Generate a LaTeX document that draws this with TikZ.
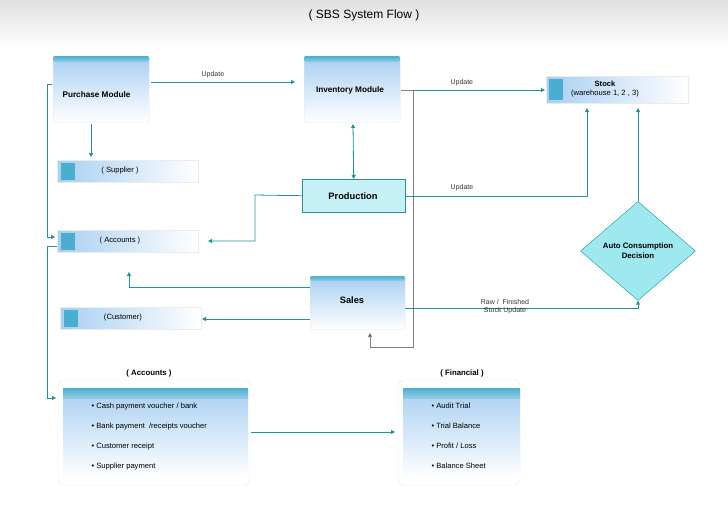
\documentclass[tikz,border=0pt]{standalone}
\usepackage{fontspec}
\setmainfont{Liberation Sans}
\usetikzlibrary{arrows.meta,shapes.geometric,patterns}
\definecolor{tl}{HTML}{1E9494}
\definecolor{bx}{HTML}{A8CFF2}
\definecolor{hd}{HTML}{4AAED0}
\definecolor{dm}{HTML}{9EE8F0}
\begin{document}
\begin{tikzpicture}[x=1pt,y=-1pt,
  lnk/.style={draw=tl,line width=0.8pt,-{Triangle[length=4pt,width=4pt]}},
  gl/.style={draw=gray,line width=0.8pt},
  lbl/.style={font=\fontsize{7}{8}\selectfont,text=black!80},
  bt/.style={font=\bfseries\fontsize{8.2}{9.5}\selectfont},
  tab/.style={font=\fontsize{7.6}{9}\selectfont},
  mod/.style={draw=black!10,rounded corners=2pt,top color=bx,bottom color=white,minimum width=96pt,anchor=north west,inner sep=0pt}]
\useasboundingbox (0,0) rectangle (728,504);
\shade[top color=black!12,bottom color=white] (0,0) rectangle (728,48);
\node (title) at (364,15) {\fontsize{12}{14}\selectfont ( SBS System Flow )};
% module boxes
\node[mod,minimum height=66pt] (pm) at (53,56) {};
\shade[top color=hd,bottom color=hd!60,rounded corners=2pt] (53,56) rectangle (149,62);
\node[bt,anchor=west] (pmt) at (59,95) {Purchase Module};
\node[mod,minimum height=66pt] (im) at (304,56) {};
\shade[top color=hd,bottom color=hd!60,rounded corners=2pt] (304,56) rectangle (400,62);
\node[bt] (imt) at (350,90) {Inventory Module};
\node[mod,minimum height=53pt,minimum width=95pt] (sa) at (310,276) {};
\shade[top color=hd,bottom color=hd!60,rounded corners=2pt] (310,276) rectangle (405,281);
\node[font=\bfseries\fontsize{9.3}{11}\selectfont] (sat) at (352,300) {Sales};
\node[draw=tl,pattern=crosshatch dots,pattern color=tl!60,fill=dm!60,minimum width=103pt,minimum height=33pt,anchor=north west,inner sep=0pt] (pr) at (302,179) {};
\node[font=\bfseries\fontsize{9.3}{11}\selectfont] (prt) at (353,196) {Production};
% tabs
\foreach \n/\x/\y/\t in {sup/57/160/{( Supplier )},acc/57/230/{( Accounts )},cus/60/307/{(Customer)}}{
  \shade[left color=bx,right color=white,draw=black!8] (\x,\y) rectangle ++(141,22);
  \fill[hd] (\x+4,\y+3) rectangle ++(14,17);
  \node[tab] (\n) at (\x+63,\y+11) {\t};
}
\shade[left color=bx,right color=white,draw=black!8] (546,76) rectangle (688,103);
\fill[hd] (549,79) rectangle (563,100);
\node[font=\fontsize{7.6}{9}\selectfont,align=center] (st) at (605,89) {\textbf{Stock}\\(warehouse 1, 2 , 3)};
\node[diamond,draw=tl,fill=dm,minimum width=115pt,minimum height=99pt,inner sep=0pt,
  font=\bfseries\fontsize{7.8}{10}\selectfont,align=center] (dd) at (638,251) {Auto Consumption\\Decision};
% bottom frames
\draw[black!10,rounded corners=6pt] (58,380) rectangle (250,485);
\shade[top color=bx,bottom color=white,rounded corners=2pt] (63,388) rectangle (248,478);
\shade[top color=hd,bottom color=hd!60] (63,388) rectangle (248,398);
\node[font=\bfseries\fontsize{7.8}{9}\selectfont] (at) at (149,373) {( Accounts )};
\foreach \i/\t in {0/{Cash payment voucher / bank},1/{Bank payment \ /receipts voucher},2/{Customer receipt},3/{Supplier payment}}
  \node[tab,anchor=west] (a\i) at (88,407+20*\i) {\textbullet\ \t};
\draw[black!10,rounded corners=6pt] (398,380) rectangle (520,485);
\shade[top color=bx,bottom color=white,rounded corners=2pt] (403,388) rectangle (520,478);
\shade[top color=hd,bottom color=hd!60] (403,388) rectangle (520,398);
\node[font=\bfseries\fontsize{7.8}{9}\selectfont] (ft) at (462,373) {( Financial )};
\foreach \i/\t in {0/{Audit Trial},1/{Trial Balance},2/{Profit / Loss},3/{Balance Sheet}}
  \node[tab,anchor=west] (f\i) at (428,406+20*\i) {\textbullet\ \t};
% coordinates
\coordinate (c1) at (295,82); \coordinate (c1s) at (151,82);
\coordinate (c2) at (91,157); \coordinate (c2s) at (91,124);
% connectors
\draw[lnk] (c1s) -- node[lbl,above,pos=0.43]{Update} (c1);
\draw[lnk] (c2s) -- (c2);
\draw[gl] (401,90) -- (413,90) -- (413,347) -- (370,347) edge[-{Triangle[length=4pt,width=4pt]}] (370,333);
\draw[lnk] (413,90) -- node[lbl,above,pos=0.37]{Update} (545,90);
\draw[draw=tl,line width=0.8pt,{Triangle[length=4pt,width=4pt]}-{Triangle[length=4pt,width=4pt]}] (353,124) -- (pr.north);
\draw[lnk] (pr.west) -- (255,195) -- (255,241) -- (208,241);
\draw[lnk] (405,196) -- (587,196) -- (587,108);
\node[lbl] at (462,188) {Update};
\draw[lnk] (310,287) -- (129,287) -- (129,272);
\draw[lnk] (310,319) -- (202,319);
\draw[lnk] (405,308) -- (638,308) -- (dd.south);
\node[lbl,align=center] at (505,307) {Raw / \ Finished\\Stock Update};
\draw[lnk] (dd.north) -- (638,108);
\draw[lnk] (52,84) -- (47,84) -- (47,237) -- (55,237);
\draw[lnk] (57,246) -- (47,246) -- (47,398) -- (56,398);
\draw[lnk] (251,432) -- (395,432);
\end{tikzpicture}
\end{document}
